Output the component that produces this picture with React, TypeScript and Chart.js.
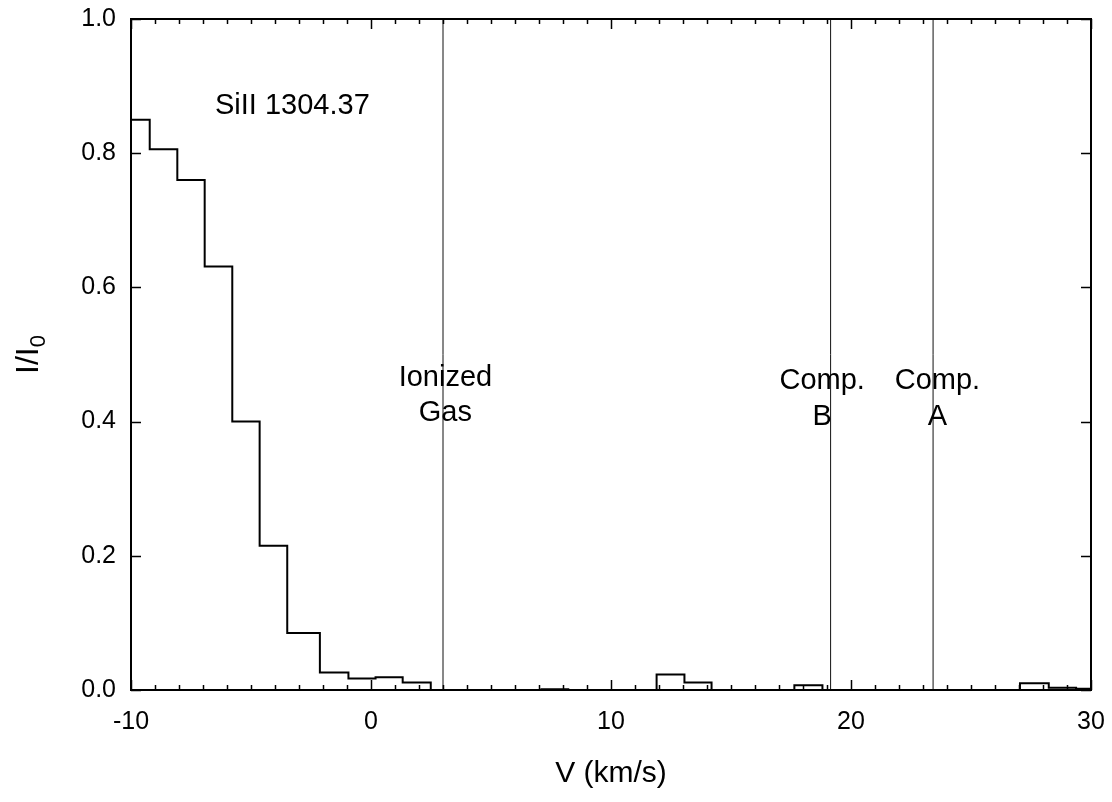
import React, { useEffect, useRef } from "react";
import { Chart, registerables } from "chart.js";

Chart.register(...registerables);

// ---- Data ----
const binEdges = [
  -10, -9.22, -8.07, -6.93, -5.78, -4.64, -3.49, -2.13, -0.94, 0.19, 1.32, 2.49,
  3.65, 4.81, 5.97, 7.1, 8.22, 9.4, 10.6, 11.9, 13.06, 14.19, 15.35, 16.5,
  17.64, 18.81, 19.96, 21.12, 22.28, 23.44, 24.6, 25.8, 27.04, 28.24, 29.38, 30,
];
const binValues = [
  0.85, 0.806, 0.76, 0.631, 0.4, 0.215, 0.085, 0.026, 0.017, 0.019, 0.011,
  0, 0, 0, 0, 0.0012, 0, 0, 0, 0.023, 0.011, 0, 0, 0, 0.007,
  0, 0, 0, 0, 0, 0, 0, 0.01, 0.0035, 0.002,
];
const markerVelocities = [3.0, 19.15, 23.42];
const annotationTexts = ["SiII 1304.37", "Ionized", "Gas", "Comp.", "B", "Comp.", "A"];
const annotationX = [-6.5, 3.1, 3.1, 18.8, 18.8, 23.6, 23.6];
const annotationY = [0.871, 0.465, 0.413, 0.4605, 0.407, 0.4605, 0.407];
const annotationAlign = ["left", "center", "center", "center", "center", "center", "center"];
const xTitle = "V (km/s)";
const yTitleMain = "I/I";
const yTitleSub = "0";

const FONT = "'Liberation Sans', Arial, Helvetica, sans-serif";

const framePlugin = {
  id: "frameTicks",
  afterDatasetsDraw(chart: any) {
    const { ctx, chartArea } = chart;
    const xs = chart.scales.x;
    const ys = chart.scales.y;
    ctx.save();
    ctx.strokeStyle = "#000";
    ctx.lineWidth = 1.5;
    ctx.beginPath();
    for (let v = -10; v <= 30; v += 1) {
      const px = Math.round(xs.getPixelForValue(v)) + 0.5;
      const len = v % 10 === 0 ? 10 : 5;
      ctx.moveTo(px, chartArea.bottom);
      ctx.lineTo(px, chartArea.bottom - len);
      ctx.moveTo(px, chartArea.top);
      ctx.lineTo(px, chartArea.top + len);
    }
    for (let i = 0; i <= 5; i++) {
      const v = i * 0.2;
      const py = Math.round(ys.getPixelForValue(v)) + 0.5;
      ctx.moveTo(chartArea.left, py);
      ctx.lineTo(chartArea.left + 10, py);
      ctx.moveTo(chartArea.right, py);
      ctx.lineTo(chartArea.right - 10, py);
    }
    ctx.stroke();
    ctx.lineWidth = 2;
    ctx.strokeRect(chartArea.left, chartArea.top, chartArea.right - chartArea.left, chartArea.bottom - chartArea.top);

    // annotations
    ctx.fillStyle = "#000";
    ctx.textBaseline = "middle";
    for (let i = 0; i < annotationTexts.length; i++) {
      ctx.textAlign = annotationAlign[i] as CanvasTextAlign;
      ctx.font = `29px ${FONT}`;
      ctx.fillText(annotationTexts[i], xs.getPixelForValue(annotationX[i]), ys.getPixelForValue(annotationY[i]));
    }

    // x title
    ctx.font = `30px ${FONT}`;
    ctx.textAlign = "center";
    ctx.fillText(xTitle, (chartArea.left + chartArea.right) / 2, 774);

    // y title with subscript
    const cy = (chartArea.top + chartArea.bottom) / 2;
    ctx.translate(29, cy);
    ctx.rotate(-Math.PI / 2);
    ctx.font = `32px ${FONT}`;
    const wMain = ctx.measureText(yTitleMain).width;
    ctx.font = `22px ${FONT}`;
    const wSub = ctx.measureText(yTitleSub).width;
    const total = wMain + wSub;
    ctx.textAlign = "left";
    ctx.font = `32px ${FONT}`;
    ctx.fillText(yTitleMain, -total / 2, 0);
    ctx.font = `22px ${FONT}`;
    ctx.fillText(yTitleSub, -total / 2 + wMain, 10);
    ctx.restore();
  },
};

export default function App() {
  const canvasRef = useRef<HTMLCanvasElement | null>(null);

  useEffect(() => {
    if (!canvasRef.current) return;
    const histPoints = binValues.map((v, i) => ({ x: binEdges[i], y: v }));
    histPoints.push({ x: binEdges[binEdges.length - 1], y: binValues[binValues.length - 1] });

    const markerSets = markerVelocities.map((v) => ({
      data: [
        { x: v, y: 0 },
        { x: v, y: 1 },
      ],
      borderColor: "#111",
      borderWidth: 1,
      pointRadius: 0,
      fill: false,
    }));

    const zeroPad = (s: any) => {
      s.paddingTop = 0;
      s.paddingBottom = 0;
      s.paddingLeft = 0;
      s.paddingRight = 0;
    };

    const chart = new Chart(canvasRef.current, {
      type: "line",
      data: {
        datasets: [
          {
            data: histPoints,
            stepped: "before",
            borderColor: "#000",
            borderWidth: 2,
            pointRadius: 0,
            fill: false,
          },
          ...markerSets,
        ] as any,
      },
      options: {
        responsive: false,
        animation: false,
        devicePixelRatio: 1,
        layout: { padding: { top: 19, right: 21, left: 0, bottom: 0 } },
        plugins: { legend: { display: false }, tooltip: { enabled: false } },
        scales: {
          x: {
            type: "linear",
            min: -10,
            max: 30,
            border: { display: false },
            grid: { display: false, drawTicks: false },
            ticks: {
              stepSize: 10,
              autoSkip: false,
              maxRotation: 0,
              padding: 17,
              color: "#000",
              font: { family: FONT, size: 25 },
            },
            afterFit: (s: any) => {
              s.height = 112;
              zeroPad(s);
            },
          },
          y: {
            type: "linear",
            min: 0,
            max: 1,
            border: { display: false },
            grid: { display: false, drawTicks: false },
            ticks: {
              stepSize: 0.2,
              padding: 15,
              color: "#000",
              font: { family: FONT, size: 25 },
              callback: (v: any) => Number(v).toFixed(1),
            },
            afterFit: (s: any) => {
              s.width = 131;
              zeroPad(s);
            },
          },
        },
      },
      plugins: [framePlugin],
    });
    return () => chart.destroy();
  }, []);

  return (
    <div style={{ position: "fixed", left: 0, top: 0, width: 1112, height: 802, background: "#fff" }}>
      <canvas ref={canvasRef} width={1112} height={802} />
    </div>
  );
}
